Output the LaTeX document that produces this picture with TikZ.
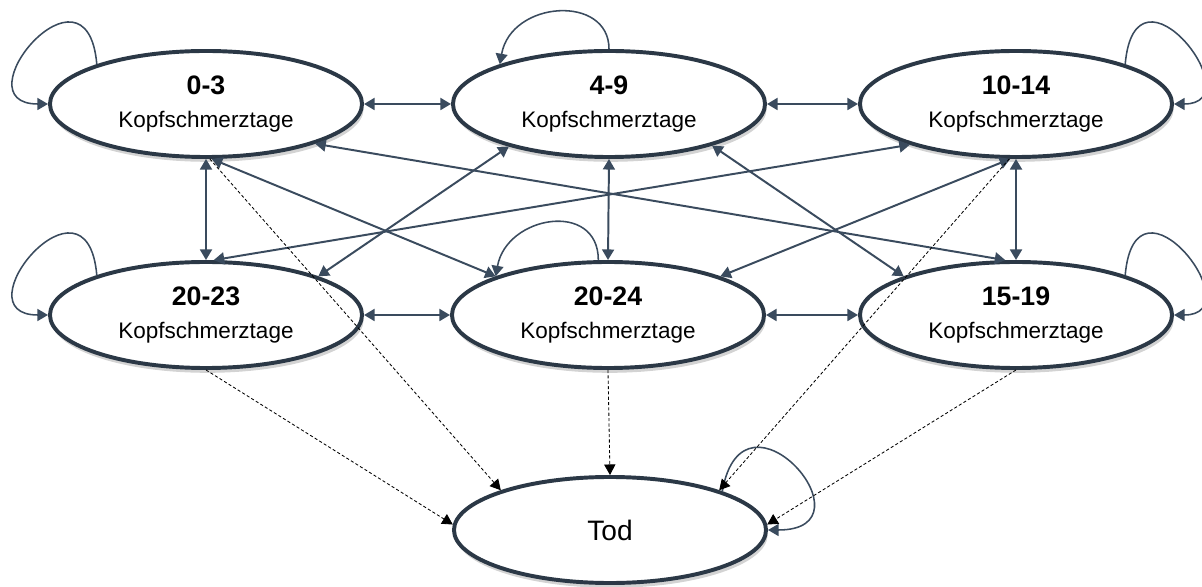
\documentclass[tikz,border=0pt]{standalone}
\usepackage{fontspec}
\setmainfont{Liberation Sans}
\usetikzlibrary{arrows.meta,shapes.geometric,shadows}

\definecolor{rimcolor}{HTML}{2B3846}
\definecolor{linecolor}{HTML}{3A4B5E}

\tikzset{
  state/.style={ellipse, draw=rimcolor, line width=2.8pt, fill=white,
    minimum width=7.8cm, minimum height=2.65cm, inner sep=0pt, align=center,
    font=\fontsize{16}{23.4}\selectfont,
    drop shadow={shadow xshift=0.04cm, shadow yshift=-0.12cm, opacity=0.35}},
  trans/.style={linecolor, line width=1.4pt,
    {Triangle[length=7.5pt,width=8.5pt]}-{Triangle[length=7.5pt,width=8.5pt]}},
  selfloop/.style={linecolor, line width=1.1pt, -{Triangle[length=7.5pt,width=8.5pt]}},
  death/.style={black, line width=0.6pt, dash pattern=on 2.2pt off 1.6pt,
    -{Triangle[length=7.5pt,width=8pt]}}
}

\newcommand{\days}[1]{{\bfseries\fontsize{19}{23.4}\selectfont #1}\\Kopfschmerztage}

\begin{document}
\begin{tikzpicture}[x=0.025cm, y=0.025cm]
    \useasboundingbox (0,0) rectangle (1202,586);

    % States, upper row
    \node (d03) at (206,482) [state] {\days{0-3}};
    \node (d49) at (609,482) [state] {\days{4-9}};
    \node (d1014) at (1016,482) [state] {\days{10-14}};

    % States, middle row
    \node (d2023) at (206,271) [state] {\days{20-23}};
    \node (d2024) at (608,271) [state] {\days{20-24}};
    \node (d1519) at (1016,271) [state] {\days{15-19}};

    % Absorbing state
    \node (tod) at (610,56) [state, font=\fontsize{20}{24}\selectfont] {Tod};

    % Neighbours in a row or column
    \draw[trans] (d03.east) -- (d49.west);
    \draw[trans] (d49.east) -- (d1014.west);
    \draw[trans] (d2023.east) -- (d2024.west);
    \draw[trans] (d2024.east) -- (d1519.west);
    \draw[trans] (d03.south) -- (d2023.north);
    \draw[trans] (d49.south) -- (d2024.north);
    \draw[trans] (d1014.south) -- (d1519.north);

    % Crossing transitions
    \draw[trans] (d03.-84) -- (d2024.161);
    \draw[trans] (d03.-20) -- (d1519.101);
    \draw[trans] (d2023.19) -- (d49.-157);
    \draw[trans] (d2023.82) -- (d1014.-159);
    \draw[trans] (d49.-22) -- (d1519.161);
    \draw[trans] (d2024.19) -- (d1014.-96);

    % Staying in the same state
    \draw[selfloop] (d03.160) .. controls +(95:115) and +(180:90) .. (d03.west);
    \draw[selfloop] (d2023.160) .. controls +(95:115) and +(180:90) .. (d2023.west);
    \draw[selfloop] (d49.north) .. controls +(90:55) and +(80:65) .. (d49.160);
    \draw[selfloop] (d2024.100) .. controls +(90:60) and +(80:62) .. (d2024.161);
    \draw[selfloop] (d1014.20) .. controls +(85:115) and +(0:80) .. (d1014.east);
    \draw[selfloop] (d1519.20) .. controls +(85:115) and +(0:80) .. (d1519.east);
    \draw[selfloop] (tod.19) .. controls +(80:120) and +(0:110) .. (tod.east);

    % Transitions to death
    \foreach \from/\to in {d03.-86/tod.160, d2023.south/tod.178, d2024.south/tod.north,
                           d1014.-97/tod.20, d1519.south/tod.2} {
        \draw[death] (\from) -- (\to);
    }
\end{tikzpicture}
\end{document}
